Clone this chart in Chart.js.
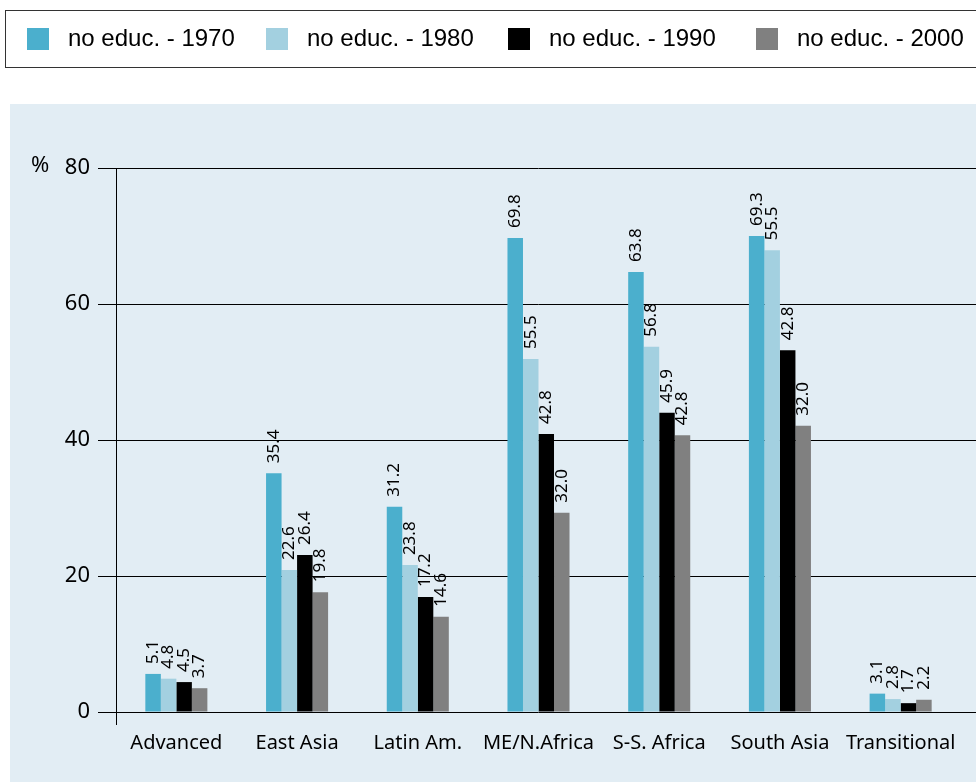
<!DOCTYPE html>
<html lang="en">
<head>
<meta charset="UTF-8">
<title>No education by region</title>
<script src="https://cdn.jsdelivr.net/npm/chart.js@4.4.0/dist/chart.umd.min.js"></script>
<style>
  html, body { margin: 0; padding: 0; background: #fff; }
  #wrap { position: relative; width: 976px; height: 782px; }
</style>
</head>
<body>
<div id="wrap"><canvas id="edu_chart" width="976" height="782"></canvas></div>
<script>
// categories and series
var regions = ['Advanced', 'East Asia', 'Latin Am.', 'ME/N.Africa', 'S-S. Africa', 'South Asia', 'Transitional'];
var seriesNames = ['no educ. - 1970', 'no educ. - 1980', 'no educ. - 1990', 'no educ. - 2000'];
var seriesColors = ['#4BAFCD', '#A3D0E0', '#000000', '#808080'];

// bar heights as drawn
var edu1970 = [5.6, 35.1, 30.2, 69.7, 64.7, 70.0, 2.7];
var edu1980 = [4.9, 20.9, 21.6, 51.9, 53.7, 67.9, 1.9];
var edu1990 = [4.4, 23.1, 16.9, 40.9, 44.0, 53.2, 1.3];
var edu2000 = [3.5, 17.6, 14.0, 29.3, 40.7, 42.1, 1.8];

// value labels as printed above the bars
var lbl1970 = ['5.1', '35.4', '31.2', '69.8', '63.8', '69.3', '3.1'];
var lbl1980 = ['4.8', '22.6', '23.8', '55.5', '56.8', '55.5', '2.8'];
var lbl1990 = ['4.5', '26.4', '17.2', '42.8', '45.9', '42.8', '1.7'];
var lbl2000 = ['3.7', '19.8', '14.6', '32.0', '42.8', '32.0', '2.2'];

var yTicks = [0, 20, 40, 60, 80];

var values = [edu1970, edu1980, edu1990, edu2000];
var labelsText = [lbl1970, lbl1980, lbl1990, lbl2000];

var datasets = seriesNames.map(function(name, i) {
  return {
    label: name,
    data: values[i],
    valueLabels: labelsText[i],
    backgroundColor: seriesColors[i],
    borderWidth: 0,
    categoryPercentage: 0.514,
    barPercentage: 1.0
  };
});

var decorPlugin = {
  id: 'decor',
  beforeDraw: function(chart) {
    var c = chart.ctx;
    c.save();
    // panel background
    c.fillStyle = '#E2EDF4';
    c.fillRect(10, 104, chart.width - 10, chart.height - 104);
    // legend frame
    c.strokeStyle = '#333';
    c.lineWidth = 1;
    c.strokeRect(5.5, 10.5, chart.width + 10, 57);
    // legend items
    var xs = [27, 266, 508, 756];
    c.font = '24px "Liberation Sans", Arial, sans-serif';
    c.textBaseline = 'middle';
    c.textAlign = 'left';
    chart.data.datasets.forEach(function(ds, i) {
      c.fillStyle = ds.backgroundColor;
      c.fillRect(xs[i], 28, 22, 22);
      c.fillStyle = '#000';
      c.fillText(ds.label, xs[i] + 41, 39);
    });
    // percent sign
    c.font = '22px "Noto Sans", sans-serif';
    c.textAlign = 'left';
    c.fillText('%', 31, 166);
    c.restore();
  },
  beforeDatasetsDraw: function(chart) {
    // gridlines run on to the right edge
    var c = chart.ctx, y = chart.scales.y, area = chart.chartArea;
    c.save();
    c.strokeStyle = '#000';
    c.lineWidth = 1;
    yTicks.forEach(function(v) {
      var py = Math.round(y.getPixelForValue(v)) + 0.5;
      c.beginPath();
      c.moveTo(area.right, py);
      c.lineTo(chart.width, py);
      c.stroke();
    });
    c.restore();
  },
  afterDatasetsDraw: function(chart) {
    var c = chart.ctx;
    c.save();
    c.font = '17px "Noto Sans", sans-serif';
    c.fillStyle = '#000';
    c.textAlign = 'left';
    c.textBaseline = 'middle';
    chart.data.datasets.forEach(function(ds, i) {
      var meta = chart.getDatasetMeta(i);
      meta.data.forEach(function(bar, j) {
        c.save();
        c.translate(bar.x, bar.y - 10);
        c.rotate(-Math.PI / 2);
        c.fillText(ds.valueLabels[j], 0, 0);
        c.restore();
      });
    });
    c.restore();
  }
};

var ctx = document.getElementById('edu_chart');
new Chart(ctx, {
  type: 'bar',
  data: { labels: regions, datasets: datasets },
  options: {
    responsive: false,
    animation: false,
    layout: { padding: { top: 168, right: 15, bottom: 0, left: 0 } },
    plugins: {
      legend: { display: false },
      tooltip: { enabled: false }
    },
    scales: {
      x: {
        offset: true,
        border: { display: false },
        grid: {
          offset: true,
          drawOnChartArea: true,
          tickLength: 13,
          lineWidth: 1,
          color: function(c) { return c.index === 0 ? '#000' : 'rgba(0,0,0,0)'; }
        },
        ticks: {
          color: '#000',
          padding: 6,
          maxRotation: 0,
          autoSkip: false,
          font: { family: '"Noto Sans", sans-serif', size: 20 }
        },
        afterFit: function(scale) { scale.height = 70; }
      },
      y: {
        min: 0,
        max: 80,
        border: { display: false },
        afterBuildTicks: function(scale) {
          scale.ticks = yTicks.map(function(v) { return { value: v }; });
        },
        grid: { color: '#000', lineWidth: 1, tickLength: 18 },
        ticks: {
          color: '#000',
          padding: 8,
          font: { family: '"Noto Sans", sans-serif', size: 22 }
        },
        afterFit: function(scale) { scale.width = 116; }
      }
    }
  },
  plugins: [decorPlugin]
});
</script>
</body>
</html>
